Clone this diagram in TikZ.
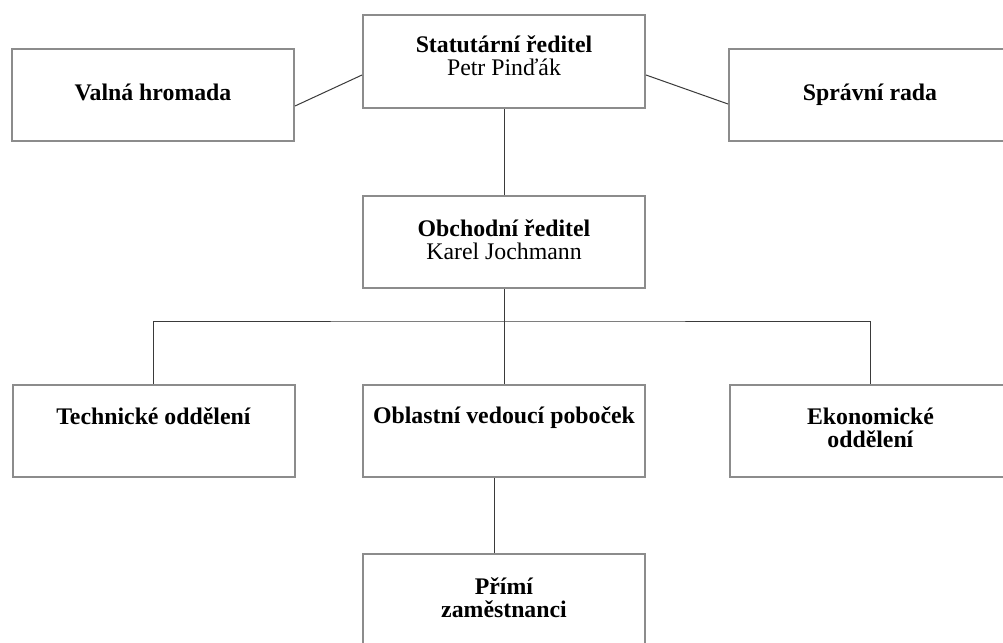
\documentclass[tikz,border=0pt]{standalone}
\usepackage{fontspec}
\setmainfont{Liberation Serif}
\usetikzlibrary{calc}
\definecolor{boxgray}{HTML}{8C8C8C}
\definecolor{linegray}{HTML}{3A3A3A}
\begin{document}
\begin{tikzpicture}[x=1pt,y=-1pt,
  orgbox/.style={draw=boxgray, line width=2pt, minimum width=282pt,
    minimum height=92pt, inner sep=0pt},
  boxtext/.style={anchor=north, inner sep=0pt, align=center,
    font=\fontsize{23.8}{23}\selectfont},
  link/.style={draw=linegray, line width=1pt}]
\useasboundingbox (0,0) rectangle (1003,642);
\fill[white] (0,0) rectangle (1003,642);

% boxes
\node[orgbox, minimum height=93pt] (stat)  at (504,61.5) {};
\node[orgbox] (valna) at (153,95) {};
\node[orgbox] (sprav) at (870,95) {};
\node[orgbox] (obch)  at (504,242) {};
\node[orgbox] (tech)  at (153.5,431) {};
\node[orgbox] (obl)   at (504,431) {};
\node[orgbox] (eko)   at (870.5,431) {};
\node[orgbox, minimum height=93pt] (primi) at (504,600.5) {};

% labels
\node[boxtext] (statT)  at (504,36)  {\textbf{Statutární ředitel}\\Petr Pinďák};
\node[boxtext] (valnaT) at (153,84)  {\textbf{Valná hromada}};
\node[boxtext] (spravT) at (870,84)  {\textbf{Správní rada}};
\node[boxtext] (obchT)  at (504,220) {\textbf{Obchodní ředitel}\\Karel Jochmann};
\node[boxtext] (techT)  at (153.5,408) {\textbf{Technické oddělení}};
\node[boxtext] (oblT)   at (504,407) {\textbf{Oblastní vedoucí poboček}};
\node[boxtext] (ekoT)   at (870.5,408) {\textbf{Ekonomické}\\\textbf{oddělení}};
\node[boxtext] (primiT) at (504,578) {\textbf{Přímí}\\\textbf{zaměstnanci}};

% connectors
\coordinate (bus) at (504,321);
\draw[link] ($(valna.east)+(0,11)$) -- ($(stat.west)+(0,13.5)$);
\draw[link] ($(stat.east)+(0,13.5)$) -- ($(sprav.west)+(0,9)$);
\draw[link] (stat.south) -- (obch.north);
\draw[link] (obch.south) -- (bus);
\draw[link] (tech.north) |- (bus) -| (eko.north);
\draw[link] (bus) -- (obl.north);
\draw[link] ($(obl.south)+(-10,0)$) -- ($(primi.north)+(-10,0)$);
\end{tikzpicture}
\end{document}
